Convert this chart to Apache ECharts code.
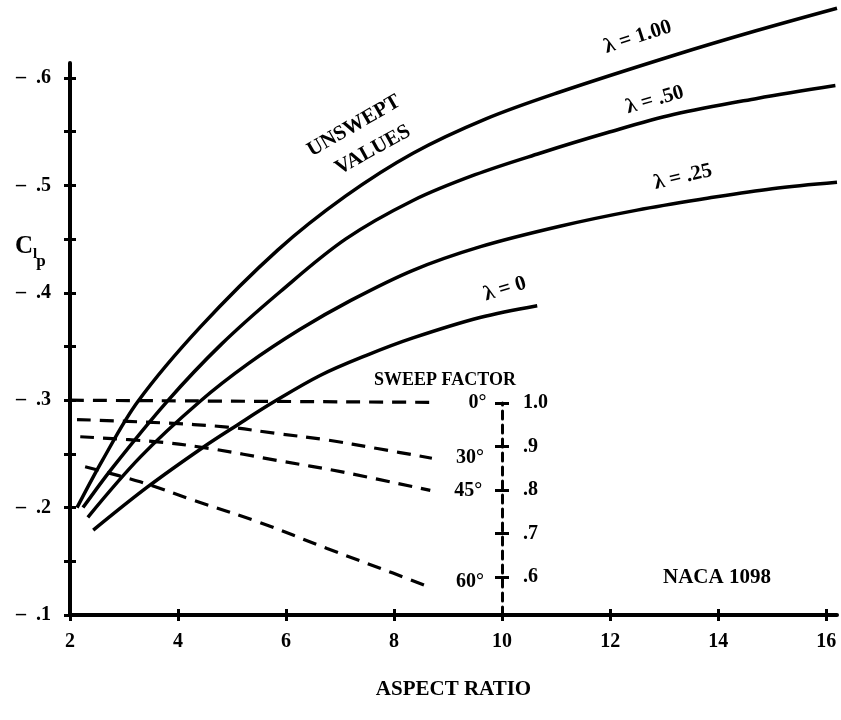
<!DOCTYPE html>
<html><head><meta charset="utf-8">
<script src="https://cdn.jsdelivr.net/npm/echarts@6/dist/echarts.min.js"></script>
<style>html,body{margin:0;padding:0;background:#fff}#c{width:841px;height:720px}</style>
</head><body><div id="c"></div>
<script>
// ---- data ----
const xTicks = [2, 4, 6, 8, 10, 12, 14, 16];
const yLabelTicks = [-0.6, -0.5, -0.4, -0.3, -0.2, -0.1];
const yMinorTicks = [-0.6, -0.55, -0.5, -0.45, -0.4, -0.35, -0.3, -0.25, -0.2, -0.15, -0.1];
const sweepFactorTicks = [1.0, 0.9, 0.8, 0.7, 0.6];

const lam100X = [2.13, 2.6, 3.26, 4.41, 5.85, 7.1, 8.35, 9.7, 11.07, 13.17, 14.7, 16.2];
const lam100Y = [-0.200, -0.244, -0.299, -0.368, -0.440, -0.490, -0.530, -0.562, -0.587, -0.621, -0.644, -0.665];
const lam050X = [2.24, 2.8, 3.8, 4.8, 5.89, 7.1, 8.35, 9.5, 10.7, 11.94, 13.17, 14.72, 16.17];
const lam050Y = [-0.200, -0.238, -0.299, -0.352, -0.401, -0.450, -0.486, -0.510, -0.530, -0.549, -0.566, -0.581, -0.593];
const lam025X = [2.33, 3.3, 4.41, 5.3, 6.26, 7.2, 8.35, 9.6, 11.07, 12.5, 13.8, 15.0, 16.2];
const lam025Y = [-0.191, -0.247, -0.299, -0.334, -0.366, -0.393, -0.421, -0.443, -0.462, -0.477, -0.488, -0.497, -0.503];
const lam000X = [2.43, 3.43, 4.46, 5.1, 5.76, 6.63, 7.5, 8.35, 9.59, 10.65];
const lam000Y = [-0.179, -0.219, -0.256, -0.277, -0.298, -0.323, -0.342, -0.358, -0.377, -0.388];

const sw00X = [2.0, 8.75];
const sw00Y = [-0.300, -0.298];
const sw30X = [2.13, 3.67, 4.91, 5.83, 6.76, 7.69, 8.70];
const sw30Y = [-0.282, -0.279, -0.275, -0.269, -0.263, -0.255, -0.246];
const sw45X = [2.19, 3.67, 4.59, 5.83, 7.06, 8.67];
const sw45Y = [-0.266, -0.261, -0.255, -0.244, -0.233, -0.216];
const sw60X = [2.28, 3.30, 4.28, 5.52, 6.76, 7.98, 8.70];
const sw60Y = [-0.238, -0.224, -0.207, -0.186, -0.162, -0.139, -0.125];

// ---- chart ----
const FF = "'Liberation Serif', 'Times New Roman', serif";
const zip = (xs, ys) => xs.map((x, i) => [x, ys[i]]);
const black = '#000';
const tickStyle = { color: black, width: 3 };

function solid(name, xs, ys) {
  return { name, type: 'line', xAxisIndex: 0, yAxisIndex: 0, data: zip(xs, ys), showSymbol: false,
    smooth: 0.35, clip: false, lineStyle: { color: black, width: 3.5 } };
}
function dashed(name, xs, ys, label, dy) {
  return { name, type: 'line', xAxisIndex: 0, yAxisIndex: 0, data: zip(xs, ys), showSymbol: false,
    smooth: 0.35, clip: false, lineStyle: { color: black, width: 3.2, type: [14, 9] },
    endLabel: { show: true, formatter: '{a|' + label + '}', distance: 4, offset: [0, dy],
      rich: { a: { width: 48, align: 'right', fontFamily: FF, fontWeight: 'bold', fontSize: 20, color: black } } } };
}

const chart = echarts.init(document.getElementById('c'), null, { renderer: 'canvas' });
const labelFont = { fontFamily: FF, fontWeight: 'bold', fontSize: 20, color: black };

function txt(text, x, y, deg, size, align) {
  return { type: 'text', x, y, rotation: (deg || 0) * Math.PI / 180,
    style: { text, fontFamily: FF, fontWeight: 'bold', fontSize: size || 18, fill: black,
      align: align || 'center', verticalAlign: 'middle' } };
}

chart.setOption({
  backgroundColor: '#fff',
  animation: false,
  grid: [
    { left: 70, right: 4, top: 63, bottom: 105 },
    { left: 502, width: 1, top: 403, bottom: 105 }
  ],
  xAxis: [
    { type: 'value', gridIndex: 0, min: 2, max: 16.2,
      axisLine: { show: true, onZero: false, lineStyle: { color: black, width: 4 } },
      axisTick: { show: true, customValues: xTicks, length: 6, lineStyle: tickStyle },
      axisLabel: Object.assign({ customValues: xTicks, margin: 17 }, labelFont),
      splitLine: { show: false },
      name: 'ASPECT RATIO', nameLocation: 'middle', nameGap: 64,
      nameTextStyle: Object.assign({}, labelFont, { fontSize: 21 }) },
    { type: 'value', gridIndex: 0, min: 2, max: 16.2, position: 'bottom',
      axisLine: { show: false, onZero: false },
      axisTick: { show: true, inside: true, customValues: xTicks, length: 6, lineStyle: tickStyle },
      axisLabel: { show: false }, splitLine: { show: false } },
    { type: 'value', gridIndex: 1, min: 0, max: 1, show: false }
  ],
  yAxis: [
    { type: 'value', gridIndex: 0, min: -0.614, max: -0.1, inverse: true,
      axisLine: { show: true, onZero: false, lineStyle: { color: black, width: 4 } },
      axisTick: { show: true, customValues: yMinorTicks, length: 6, lineStyle: tickStyle },
      axisLabel: Object.assign({ customValues: yLabelTicks, margin: 19,
        formatter: v => '\u2013\u2002' + Math.abs(v).toFixed(1).slice(1) }, labelFont),
      splitLine: { show: false } },
    { type: 'value', gridIndex: 0, min: -0.614, max: -0.1, inverse: true, position: 'left',
      axisLine: { show: false, onZero: false },
      axisTick: { show: true, inside: true, customValues: yMinorTicks, length: 6, lineStyle: tickStyle },
      axisLabel: { show: false }, splitLine: { show: false } },
    { type: 'value', gridIndex: 1, min: 0.5126, max: 1.0, position: 'left',
      axisLine: { show: true, onZero: false, lineStyle: { color: black, width: 3, type: [8, 6] } },
      axisTick: { show: true, customValues: sweepFactorTicks, length: 7, lineStyle: tickStyle },
      axisLabel: Object.assign({ customValues: sweepFactorTicks, inside: true, margin: 21,
        padding: [12, 0, 0, 0],
        formatter: v => v >= 1 ? '1.0' : '.' + Math.round(v * 10) }, labelFont),
      splitLine: { show: false } },
    { type: 'value', gridIndex: 1, min: 0.5126, max: 1.0, position: 'left',
      axisLine: { show: false, onZero: false },
      axisTick: { show: true, inside: true, customValues: sweepFactorTicks, length: 7, lineStyle: tickStyle },
      axisLabel: { show: false }, splitLine: { show: false } }
  ],
  series: [
    solid('λ = 1.00', lam100X, lam100Y),
    solid('λ = .50', lam050X, lam050Y),
    solid('λ = .25', lam025X, lam025Y),
    solid('λ = 0', lam000X, lam000Y),
    dashed('0°', sw00X, sw00Y, '0°', 0),
    dashed('30°', sw30X, sw30Y, '30°', 0),
    dashed('45°', sw45X, sw45Y, '45°', 0),
    dashed('60°', sw60X, sw60Y, '60°', -6)
  ],
  graphic: [
    txt('C', 24, 247, 0, 25),
    txt('l', 35, 254, 0, 15),
    txt('p', 41, 262, 0, 17),
    txt('UNSWEPT', 354, 126, 30, 21),
    txt('VALUES', 373, 150, 29, 21),
    txt('\u03bb = 1.00', 638, 37, 18, 21),
    txt('\u03bb = .50', 655, 100, 16, 21),
    txt('\u03bb = .25', 683, 177, 13, 21),
    txt('\u03bb = 0', 505, 289, 17, 21),
    txt('SWEEP FACTOR', 445, 380, 0, 18),
    txt('NACA 1098', 663, 578, 0, 21, 'left')
  ]
});
</script></body></html>
